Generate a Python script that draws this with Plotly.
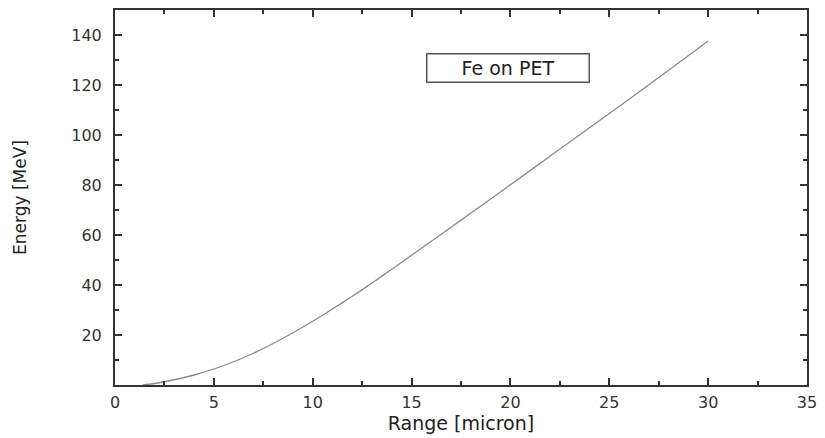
import plotly.graph_objects as go

range_um = [1.4, 2, 3, 4, 5, 6, 7, 8, 9, 10, 11, 12, 13, 14, 15, 16, 17, 18, 19, 20,
            22, 24, 26, 28, 30]
energy_mev = [0, 0.6, 2.1, 4.0, 6.4, 9.3, 12.7, 16.6, 20.9, 25.5, 30.4, 35.5, 40.8, 46.3, 51.9,
              57.5, 63.1, 68.8, 74.4, 80.1, 91.5, 102.9, 114.3, 125.9, 137.6]

x_ticks = [0, 5, 10, 15, 20, 25, 30, 35]
y_ticks = [20, 40, 60, 80, 100, 120, 140]

axis_col = "#333333"
font_fam = "DejaVu Sans, Liberation Sans, Arial, sans-serif"

fig = go.Figure()
fig.add_trace(go.Scatter(x=range_um, y=energy_mev, mode="lines",
                         line=dict(color="#8a8a8a", width=1.3, shape="spline", smoothing=0.8),
                         showlegend=False))

common = dict(showgrid=False, zeroline=False, showline=True, linecolor=axis_col, linewidth=2,
              ticks="inside", ticklen=7, tickwidth=2, tickcolor=axis_col, mirror="ticks",
              tickfont=dict(family=font_fam, size=16, color="#333333"))

fig.update_xaxes(range=[0, 35], tickmode="array", tickvals=x_ticks,
                 minor=dict(tickmode="linear", tick0=0, dtick=2.5, ticks="inside", ticklen=4,
                            tickwidth=2, tickcolor=axis_col),
                 title=dict(text="Range [micron]", font=dict(family=font_fam, size=19, color="#222222"),
                            standoff=4),
                 ticklabelstandoff=2,
                 **common)
fig.update_yaxes(range=[0, 150], tickmode="array", tickvals=y_ticks,
                 minor=dict(tickmode="linear", tick0=0, dtick=10, ticks="inside", ticklen=4,
                            tickwidth=2, tickcolor=axis_col),
                 title=dict(text="Energy [MeV]", font=dict(family=font_fam, size=17, color="#222222"),
                            standoff=40),
                 ticklabelstandoff=8,
                 **common)

fig.add_annotation(x=19.9, y=127, xref="x", yref="y", text="Fe on PET", showarrow=False,
                   font=dict(family=font_fam, size=19, color="#222222"),
                   bordercolor="#555555", borderwidth=1.5, borderpad=3, bgcolor="white",
                   width=155, height=21)

fig.update_layout(width=825, height=438, margin=dict(l=115, r=11, t=8, b=50),
                  paper_bgcolor="white", plot_bgcolor="white")

fig.write_html("out.html")
